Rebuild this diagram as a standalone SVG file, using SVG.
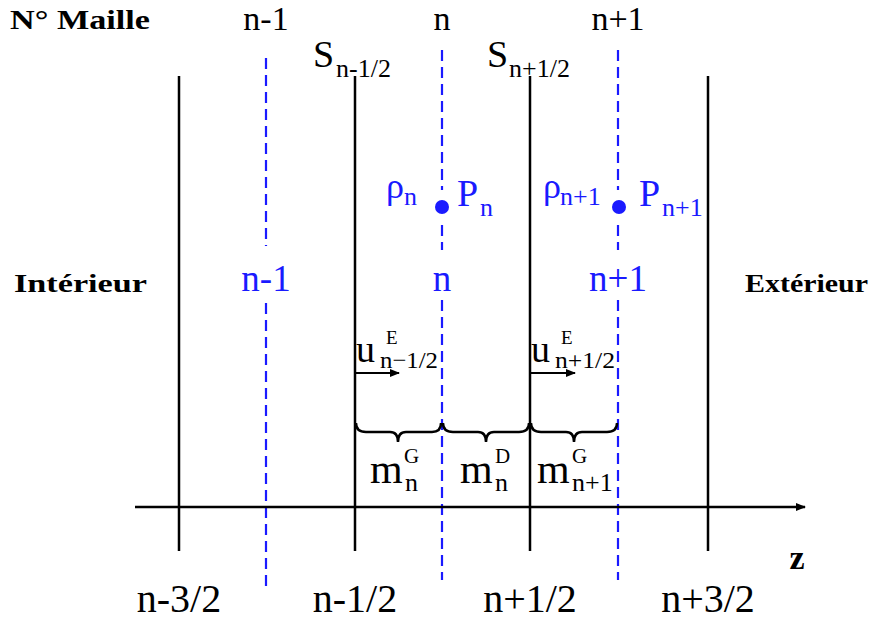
<svg xmlns="http://www.w3.org/2000/svg" width="882" height="620" viewBox="0 0 882 620">
<defs>
<style>
.bl{fill:#1a1aff}
.solid{stroke:#000;stroke-width:2.5;fill:none}
.dash{stroke:#1a1aff;stroke-width:2.2;stroke-dasharray:11,6;fill:none}
.brace{stroke:#000;stroke-width:2.5;fill:none}
</style>
<marker id="ah" viewBox="0 0 10 10" refX="9" refY="5" markerWidth="10" markerHeight="10" markerUnits="userSpaceOnUse" orient="auto">
<path d="M0,1 L10,5 L0,9 Z" fill="#000"/>
</marker>
</defs>
<rect width="882" height="620" fill="#fff"/>

<g id="connectors">
<line class="solid" x1="179" y1="76" x2="179" y2="551"/>
<line class="solid" x1="355" y1="76" x2="355" y2="551"/>
<line class="solid" x1="530" y1="76" x2="530" y2="551"/>
<line class="solid" x1="708" y1="76" x2="708" y2="551"/>
<line class="dash" x1="266" y1="58" x2="266" y2="246"/>
<line class="dash" x1="266" y1="303" x2="266" y2="588"/>
<line class="dash" x1="442" y1="50" x2="442" y2="190"/>
<line class="dash" x1="442" y1="225" x2="442" y2="250"/>
<line class="dash" x1="442" y1="300" x2="442" y2="580"/>
<line class="dash" x1="618" y1="50" x2="618" y2="190"/>
<line class="dash" x1="618" y1="225" x2="618" y2="250"/>
<line class="dash" x1="618" y1="300" x2="618" y2="580"/>
<line stroke="#000" stroke-width="2.5" x1="135" y1="507" x2="805" y2="507" marker-end="url(#ah)"/>
<line stroke="#000" stroke-width="2" x1="355" y1="373" x2="399" y2="373" marker-end="url(#ah)"/>
<line stroke="#000" stroke-width="2" x1="530" y1="373" x2="575" y2="373" marker-end="url(#ah)"/>
<path class="brace" d="M356,423 C356,429 359,432 366,432 L390,432 C395,432 398,435 398,442 C398,435 401,432 406,432 L432,432 C438,432 441,429 441,423"/>
<path class="brace" d="M443,423 C443,429 446,432 453,432 L478,432 C483,432 486,435 486,442 C486,435 489,432 494,432 L519,432 C526,432 529,429 529,423"/>
<path class="brace" d="M531,423 C531,429 534,432 541,432 L566,432 C571,432 574,435 574,442 C574,435 577,432 582,432 L607,432 C614,432 617,429 617,423"/>
</g>

<g font-family="Liberation Serif, Times New Roman, serif" fill="#000">
<g id="header">
<text x="10" y="29" font-size="27" font-weight="bold" textLength="140" lengthAdjust="spacingAndGlyphs">N° Maille</text>
<text x="266" y="30" font-size="34" text-anchor="middle">n-1</text>
<text x="442" y="30" font-size="34" text-anchor="middle">n</text>
<text x="618" y="30" font-size="34" text-anchor="middle">n+1</text>
</g>

<g id="surfaces">
<text x="313" y="67" font-size="38">S</text>
<text x="336" y="77" font-size="26">n-1/2</text>
<text x="487" y="67" font-size="38">S</text>
<text x="509" y="77" font-size="26">n+1/2</text>
</g>

<g id="cell-n" fill="#1a1aff">
<text x="386" y="198" font-size="36">ρ</text>
<text x="404" y="205" font-size="26">n</text>
<circle cx="442" cy="207" r="7"/>
<text x="457" y="206" font-size="38">P</text>
<text x="480" y="216" font-size="26">n</text>
<text x="442" y="291" font-size="37" text-anchor="middle">n</text>
</g>

<g id="cell-n1" fill="#1a1aff">
<text x="543" y="198" font-size="36">ρ</text>
<text x="560" y="205" font-size="26">n+1</text>
<circle cx="619" cy="207" r="7"/>
<text x="639" y="206" font-size="38">P</text>
<text x="662" y="216" font-size="26">n+1</text>
<text x="618" y="291" font-size="37" text-anchor="middle">n+1</text>
</g>

<g id="cell-nm1" fill="#1a1aff">
<text x="266" y="291" font-size="37" text-anchor="middle">n-1</text>
</g>

<g id="sides" font-weight="bold">
<text x="14" y="292" font-size="26" textLength="133" lengthAdjust="spacingAndGlyphs">Intérieur</text>
<text x="745" y="292" font-size="26" textLength="123" lengthAdjust="spacingAndGlyphs">Extérieur</text>
</g>

<g id="velocities">
<text x="356" y="362" font-size="38">u</text>
<text x="386" y="344" font-size="19">E</text>
<text x="380" y="368" font-size="24" textLength="58" lengthAdjust="spacingAndGlyphs">n−1/2</text>
<text x="531" y="362" font-size="38">u</text>
<text x="561" y="344" font-size="19">E</text>
<text x="555" y="368" font-size="24" textLength="60" lengthAdjust="spacingAndGlyphs">n+1/2</text>
</g>

<g id="masses">
<text x="370" y="483" font-size="42">m</text>
<text x="404" y="463" font-size="21">G</text>
<text x="405" y="491" font-size="26">n</text>
<text x="460" y="483" font-size="42">m</text>
<text x="495" y="463" font-size="21">D</text>
<text x="495" y="491" font-size="26">n</text>
<text x="537" y="483" font-size="42">m</text>
<text x="572" y="463" font-size="21">G</text>
<text x="572" y="491" font-size="26">n+1</text>
</g>

<g id="axis-labels">
<text x="797" y="569" font-size="34" font-weight="bold" text-anchor="middle">z</text>
<text x="179" y="612" font-size="40" text-anchor="middle">n-3/2</text>
<text x="355" y="612" font-size="40" text-anchor="middle">n-1/2</text>
<text x="530" y="612" font-size="40" text-anchor="middle">n+1/2</text>
<text x="708" y="612" font-size="40" text-anchor="middle">n+3/2</text>
</g>
</g>
</svg>
